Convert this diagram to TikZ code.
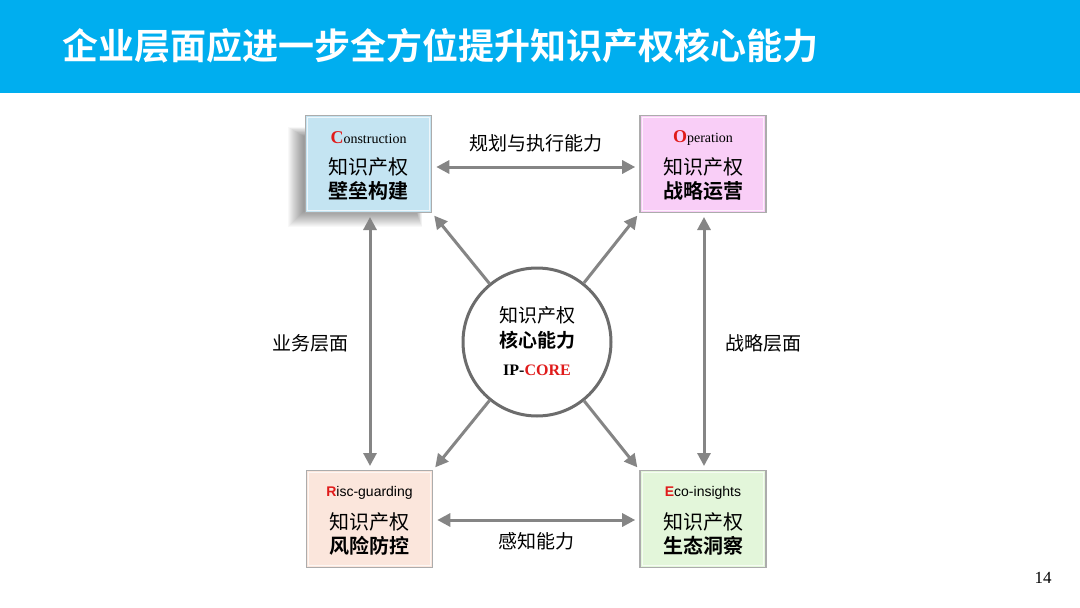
\documentclass[tikz,border=0pt]{standalone}
\usepackage{fontspec}
\setmainfont{Liberation Serif}
\newfontfamily\cjk{Noto Sans CJK SC}[BoldFont={Noto Sans CJK SC Bold}]
\newfontfamily\arialf{Liberation Sans}
\newfontfamily\timesb{Liberation Serif Bold}
\usetikzlibrary{arrows.meta,calc}
\definecolor{hdr}{HTML}{00AEEF}
\definecolor{lnk}{HTML}{858585}
\definecolor{cblue}{HTML}{C4E4F2}
\definecolor{cpink}{HTML}{F9CEF7}
\definecolor{cpeach}{HTML}{FBE6DC}
\definecolor{cgreen}{HTML}{E3F6DA}
\definecolor{redc}{HTML}{E01B1B}
\tikzset{
  box/.style={draw=gray!65, line width=1.6pt, minimum width=126pt, minimum height=97pt, inner sep=0pt},
  bevel/.style={draw=white, opacity=0.7, line width=1.2pt},
  conn/.style={draw=lnk, line width=3pt, {Triangle[length=13pt,width=13pt]}-{Triangle[length=13pt,width=13pt]}, shorten <=4pt, shorten >=4pt},
  sconn/.style={draw=lnk, line width=3pt, -{Triangle[length=13pt,width=13pt]}, shorten >=3pt},
  en/.style={font=\fontsize{14}{16}\selectfont, inner sep=0pt},
  zh/.style={font=\cjk\fontsize{20}{22}\selectfont, inner sep=0pt},
  zhb/.style={font=\cjk\bfseries\fontsize{20}{22}\selectfont, inner sep=0pt},
  lbl/.style={font=\cjk\fontsize{19}{22}\selectfont, inner sep=0pt}
}
\begin{document}
\begin{tikzpicture}[x=1pt,y=-1pt]
\useasboundingbox (0,0) rectangle (1080,608);
\fill[white] (0,0) rectangle (1080,608);
\fill[hdr] (0,0) rectangle (1080,93);
\node[anchor=west, text=white, font=\cjk\bfseries\fontsize{36}{40}\selectfont, inner sep=0pt] (title) at (62,46) {企业层面应进一步全方位提升知识产权核心能力};

% blurred shadow for construction box
\foreach \k in {0,...,15} {
  \fill[black, opacity=0.028] ($(303-\k,136-\k*0.6)$) rectangle ($(416+\k*0.4,212+\k)$);
}

\node[box, fill=cblue] (C) at (368.5,164) {};
\node[box, fill=cpink] (O) at (703,164) {};
\node[box, fill=cpeach] (R) at (369.5,519) {};
\node[box, fill=cgreen] (E) at (703,519) {};
\foreach \b in {C,O,R,E} {
  \draw[bevel] ($(\b.north west)+(3,3)$) rectangle ($(\b.south east)+(-3,-3)$);
}

\node[en] (Ct) at ($(C)+(0,-26)$) {\textcolor{redc}{\timesb\fontsize{18}{18}\selectfont C}onstruction};
\node[zh] (C1) at ($(C)+(0,3)$) {知识产权};
\node[zhb] (C2) at ($(C)+(0,27)$) {壁垒构建};

\node[en] (Ot) at ($(O)+(0,-26)$) {\textcolor{redc}{\timesb\fontsize{18}{18}\selectfont O}peration};
\node[zh] (O1) at ($(O)+(0,3)$) {知识产权};
\node[zhb] (O2) at ($(O)+(0,27)$) {战略运营};

\node[en, font=\arialf\fontsize{14}{16}\selectfont] (Rt) at ($(R)+(0,-26)$) {\textcolor{redc}{\bfseries R}isc-guarding};
\node[zh] (R1) at ($(R)+(0,3)$) {知识产权};
\node[zhb] (R2) at ($(R)+(0,27)$) {风险防控};

\node[en, font=\arialf\fontsize{14}{16}\selectfont] (Et) at ($(E)+(0,-26)$) {\textcolor{redc}{\bfseries E}co-insights};
\node[zh] (E1) at ($(E)+(0,3)$) {知识产权};
\node[zhb] (E2) at ($(E)+(0,27)$) {生态洞察};

\node[circle, draw=gray!85!black, line width=3pt, fill=white, minimum size=148pt, inner sep=0pt] (core) at (537,342) {};
\node[zh, font=\cjk\fontsize{19}{22}\selectfont] (k1) at (537,315) {知识产权};
\node[zhb, font=\cjk\bfseries\fontsize{19}{22}\selectfont] (k2) at (537,340) {核心能力};
\node[inner sep=0pt, font=\bfseries\fontsize{16}{18}\selectfont] (k3) at (537,370) {IP-\textcolor{redc}{CORE}};

\draw[conn] (C.east |- 0,167) coordinate (a1) -- (O.west |- 0,167) coordinate (a2);
\draw[conn] (R.east |- 0,520) -- (E.west |- 0,520);
\draw[conn] (370,213) coordinate (v1) -- (370,470) coordinate (v2);
\draw[conn] (704,213) coordinate (v3) -- (704,470) coordinate (v4);

\draw[sconn] (core) -- (C.south east);
\draw[sconn] (core) -- (O.south west);
\draw[sconn] (core) -- (R.north east);
\draw[sconn] (core) -- (E.north west);

\node[lbl] (l1) at (536,143) {规划与执行能力};
\node[lbl] (l2) at (536,541) {感知能力};
\node[lbl] (l3) at (310,343) {业务层面};
\node[lbl] (l4) at (763,343) {战略层面};

\node[inner sep=0pt, font=\fontsize{17}{18}\selectfont] (pg) at (1043,578) {14};
\end{tikzpicture}
\end{document}
